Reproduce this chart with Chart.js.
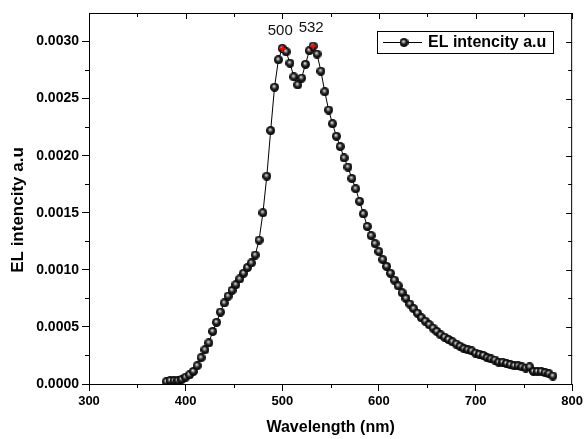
<!DOCTYPE html>
<html>
<head>
<meta charset="utf-8">
<script src="https://cdn.jsdelivr.net/npm/chart.js@4.4.1/dist/chart.umd.min.js"></script>
<style>
  html, body { margin: 0; padding: 0; background: #fff; }
</style>
</head>
<body>
<canvas id="elChart" width="586" height="439"></canvas>
<script>
// EL spectrum
const wavelengths = [
  380, 384, 388, 392, 396, 400, 404, 408, 412, 416,
  420, 424, 428, 432, 436, 440, 444, 448, 452, 456,
  460, 464, 468, 472, 476, 480, 484, 488, 492, 496,
  500, 504, 508, 512, 516, 520, 524, 528, 532, 536,
  540, 544, 548, 552, 556, 560, 564, 568, 572, 576,
  580, 584, 588, 592, 596, 600, 604, 608, 612, 616,
  620, 624, 628, 632, 636, 640, 644, 648, 652, 656,
  660, 664, 668, 672, 676, 680, 684, 688, 692, 696,
  700, 704, 708, 712, 716, 720, 724, 728, 732, 736,
  740, 744, 748, 752, 756, 760, 764, 768, 772, 776,
  780
]
const elIntensity = [
  0.00002, 0.00003, 0.00003, 0.00003, 0.00004, 0.00006, 0.00008, 0.00011, 0.00016, 0.00023,
  0.00030, 0.00036, 0.00046, 0.00054, 0.00063, 0.00071, 0.00077, 0.00082, 0.00087, 0.00092,
  0.00097, 0.00102, 0.00106, 0.00113, 0.00126, 0.00150, 0.00182, 0.00222, 0.00260, 0.00284,
  0.00294, 0.00291, 0.00281, 0.00269, 0.00262, 0.00268, 0.00280, 0.00292, 0.00296, 0.00289,
  0.00274, 0.00256, 0.00240, 0.00228, 0.00217, 0.00208, 0.00198, 0.00190, 0.00180, 0.00171,
  0.00160, 0.00149, 0.00138, 0.00130, 0.00123, 0.00116, 0.00109, 0.00103, 0.00097, 0.00091,
  0.00086, 0.00080, 0.00075, 0.00070, 0.00066, 0.00062, 0.00058, 0.00055, 0.00052, 0.00049,
  0.00046, 0.00043, 0.00041, 0.00039, 0.00037, 0.00035, 0.00033, 0.00031, 0.00030, 0.00029,
  0.00027, 0.00026, 0.00025, 0.00023, 0.00022, 0.00021, 0.00019, 0.00019, 0.00018, 0.00017,
  0.00016, 0.00016, 0.00015, 0.00014, 0.00015, 0.00011, 0.00011, 0.00011, 0.00010, 0.00009,
  0.00007
]
const peakWavelengths = [500, 532]
const peakIntensity = [0.00294, 0.00296]
const peakLabels = ["500", "532"]

const xTicks = [300, 400, 500, 600, 700, 800]
const xMinorTicks = [350, 450, 550, 650, 750]
const yTicks = [0, 0.0005, 0.0010, 0.0015, 0.0020, 0.0025, 0.0030]
const yMinorTicks = [0.00025, 0.00075, 0.00125, 0.00175, 0.00225, 0.00275]

const seriesLabel = "EL intencity a.u"
const yTitle = "EL intencity a.u"
const fontFamily = "'Liberation Sans', Arial, sans-serif"

function makeSphere(r) {
    const c = document.createElement("canvas")
    c.width = r * 2
    c.height = r * 2
    const g = c.getContext("2d")
    const grad = g.createRadialGradient(r * 0.85, r * 0.72, 0, r, r, r)
    grad.addColorStop(0, "#ffffff")
    grad.addColorStop(0.22, "#a0a0a0")
    grad.addColorStop(0.55, "#202020")
    grad.addColorStop(1, "#000")
    g.fillStyle = grad
    g.beginPath()
    g.arc(r, r, r, 0, Math.PI * 2)
    g.fill()
    return c
}

const sphere = makeSphere(4.5)

// box frame, minor ticks, y title, peak labels and the inner legend
const extrasPlugin = {
    id: "extras",
    afterDraw(chart) {
        const ctx = chart.ctx
        const a = chart.chartArea
        const x = chart.scales.x
        const y = chart.scales.y
        ctx.save()
        ctx.strokeStyle = "#000"
        ctx.lineWidth = 1

        ctx.beginPath()
        ctx.moveTo(a.left, a.top + 0.5)
        ctx.lineTo(a.right, a.top + 0.5)
        ctx.moveTo(a.right - 0.5, a.top)
        ctx.lineTo(a.right - 0.5, a.bottom)
        ctx.stroke()

        ctx.beginPath()
        xMinorTicks.forEach(v => {
            const px = Math.round(x.getPixelForValue(v)) + 0.5
            ctx.moveTo(px, a.bottom)
            ctx.lineTo(px, a.bottom + 4)
        })
        yMinorTicks.forEach(v => {
            const py = Math.round(y.getPixelForValue(v)) + 0.5
            ctx.moveTo(a.left, py)
            ctx.lineTo(a.left - 4, py)
        })
        // top and right axes, ticks pointing in
        xTicks.concat(xMinorTicks).forEach(v => {
            const px = Math.round(x.getPixelForValue(v)) + 0.5
            const len = xTicks.includes(v) ? 6 : 4
            ctx.moveTo(px, a.top)
            ctx.lineTo(px, a.top + len)
        })
        yTicks.concat(yMinorTicks).forEach(v => {
            const py = Math.round(y.getPixelForValue(v)) + 0.5
            const len = yTicks.includes(v) ? 6 : 4
            ctx.moveTo(a.right, py)
            ctx.lineTo(a.right - len, py)
        })
        ctx.stroke()

        // y axis title
        ctx.fillStyle = "#000"
        ctx.font = "bold 17px " + fontFamily
        ctx.textAlign = "center"
        ctx.textBaseline = "middle"
        ctx.save()
        ctx.translate(18, 210)
        ctx.rotate(-Math.PI / 2)
        ctx.fillText(yTitle, 0, 0)
        ctx.restore()

        // peak labels
        ctx.fillStyle = "#111"
        ctx.font = "15px " + fontFamily
        peakLabels.forEach((t, i) => {
            const px = x.getPixelForValue(peakWavelengths[i])
            const py = y.getPixelForValue(peakIntensity[i])
            ctx.fillText(t, px - 2, py - 18)
        })

        // legend box
        ctx.strokeRect(377.5, 31.5, 176, 22)
        ctx.beginPath()
        ctx.moveTo(383, 42.5)
        ctx.lineTo(422, 42.5)
        ctx.stroke()
        ctx.drawImage(sphere, 404 - 4.5, 42.5 - 4.5)
        ctx.fillStyle = "#000"
        ctx.font = "bold 16px " + fontFamily
        ctx.textAlign = "left"
        ctx.fillText(seriesLabel, 428, 43)
        ctx.restore()
    }
}

const elCtx = document.getElementById("elChart")

new Chart(elCtx, {
    type: "line",
    data: {
        datasets: [
            {
                label: "peaks",
                data: peakWavelengths.map((w, i) => ({ x: w, y: peakIntensity[i] })),
                showLine: false,
                pointStyle: "cross",
                pointRadius: 3.5,
                borderColor: "#ff0000",
                borderWidth: 1.5,
                order: 0
            },
            {
                label: seriesLabel,
                data: wavelengths.map((w, i) => ({ x: w, y: elIntensity[i] })),
                borderColor: "#000",
                borderWidth: 1,
                pointStyle: sphere,
                tension: 0,
                order: 1
            }
        ]
    },
    options: {
        responsive: false,
        animation: false,
        layout: { padding: { top: 13, right: 13, left: 0, bottom: 0 } },
        plugins: {
            legend: { display: false },
            tooltip: { enabled: false }
        },
        scales: {
            x: {
                type: "linear",
                min: 300,
                max: 800,
                afterBuildTicks: s => { s.ticks = xTicks.map(v => ({ value: v })) },
                afterFit: s => { s.height = 55 },
                ticks: {
                    color: "#000",
                    padding: 3,
                    maxRotation: 0,
                    font: { family: fontFamily, size: 13, weight: "bold" }
                },
                grid: { drawOnChartArea: false, tickLength: 7, color: "#000", lineWidth: 1 },
                border: { color: "#000", width: 1 },
                title: {
                    display: true,
                    text: "Wavelength (nm)",
                    color: "#000",
                    font: { family: fontFamily, size: 16, weight: "bold" },
                    padding: { top: 0, bottom: 2 }
                }
            },
            y: {
                type: "linear",
                min: 0,
                max: 0.00325,
                afterBuildTicks: s => { s.ticks = yTicks.map(v => ({ value: v })) },
                afterFit: s => { s.width = 89 },
                ticks: {
                    color: "#000",
                    padding: 3,
                    font: { family: fontFamily, size: 14, weight: "bold" },
                    callback: v => v.toFixed(4)
                },
                grid: { drawOnChartArea: false, tickLength: 7, color: "#000", lineWidth: 1 },
                border: { color: "#000", width: 1 },
                title: { display: false }
            }
        }
    },
    plugins: [extrasPlugin]
})
</script>
</body>
</html>
